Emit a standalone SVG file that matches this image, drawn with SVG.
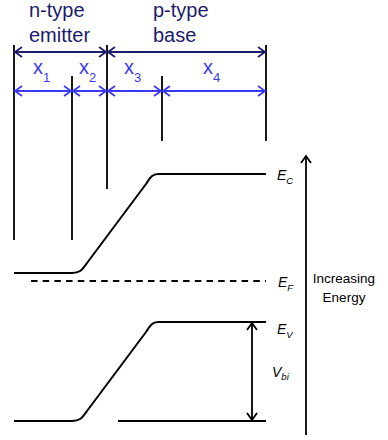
<svg xmlns="http://www.w3.org/2000/svg" width="388" height="440" viewBox="0 0 388 440">
<defs>
<marker id="ahn" viewBox="-8 -6 10 12" markerWidth="10" markerHeight="12" refX="0" refY="0" orient="auto-start-reverse" markerUnits="userSpaceOnUse">
<path d="M-7,-5 L0,0 L-7,5" fill="none" stroke="#1c1c6e" stroke-width="1.8"/>
</marker>
<marker id="ahb" viewBox="-8 -6 10 12" markerWidth="10" markerHeight="12" refX="0" refY="0" orient="auto-start-reverse" markerUnits="userSpaceOnUse">
<path d="M-7,-5 L0,0 L-7,5" fill="none" stroke="#3a3af5" stroke-width="1.8"/>
</marker>
<marker id="ahk" viewBox="-8 -6 10 12" markerWidth="10" markerHeight="12" refX="0" refY="0" orient="auto-start-reverse" markerUnits="userSpaceOnUse">
<path d="M-7,-5 L0,0 L-7,5" fill="none" stroke="#000" stroke-width="1.8"/>
</marker>
</defs>
<style>
.v{stroke:#000;stroke-width:1.8;fill:none}
.band{stroke:#000;stroke-width:2;fill:none}
.navy{stroke:#1c1c6e;stroke-width:2;fill:none}
.blue{stroke:#3a3af5;stroke-width:2;fill:none}
.title{font-family:"Liberation Sans",Arial,sans-serif;font-size:20px;fill:#1c1c6e}
.xl{font-family:"Liberation Sans",Arial,sans-serif;font-size:20px;fill:#3a3af5}
.sub{font-size:13px}
.el{font-family:"Liberation Sans",Arial,sans-serif;font-size:14px;font-style:italic;fill:#000}
.esub{font-size:9.5px}
.lbl{font-family:"Liberation Sans",Arial,sans-serif;font-size:13.5px;fill:#000}
</style>
<g id="boundaries">
<line class="v" x1="14" y1="45" x2="14" y2="240"/>
<line class="v" x1="72" y1="76" x2="72" y2="240"/>
<line class="v" x1="107" y1="45" x2="107" y2="189"/>
<line class="v" x1="162" y1="76" x2="162" y2="141"/>
<line class="v" x1="266" y1="45" x2="266" y2="141"/>
</g>
<g id="region-labels">
<text class="title" x="29" y="17">n-type</text>
<text class="title" x="29" y="42">emitter</text>
<text class="title" x="153" y="17">p-type</text>
<text class="title" x="153" y="42">base</text>
</g>
<g id="connectors">
<line class="navy" x1="15" y1="52" x2="106" y2="52" marker-start="url(#ahn)" marker-end="url(#ahn)"/>
<line class="navy" x1="108" y1="52" x2="265" y2="52" marker-start="url(#ahn)" marker-end="url(#ahn)"/>
<line class="blue" x1="15" y1="91" x2="71" y2="91" marker-start="url(#ahb)" marker-end="url(#ahb)"/>
<line class="blue" x1="73" y1="91" x2="106" y2="91" marker-start="url(#ahb)" marker-end="url(#ahb)"/>
<line class="blue" x1="108" y1="91" x2="161" y2="91" marker-start="url(#ahb)" marker-end="url(#ahb)"/>
<line class="blue" x1="163" y1="91" x2="265" y2="91" marker-start="url(#ahb)" marker-end="url(#ahb)"/>
<line class="v" x1="252" y1="323" x2="252" y2="420" marker-start="url(#ahk)" marker-end="url(#ahk)"/>
<line class="v" x1="306" y1="435" x2="306" y2="156" marker-end="url(#ahk)"/>
</g>
<g id="width-labels">
<text class="xl" x="33" y="74">x<tspan class="sub" dy="8">1</tspan></text>
<text class="xl" x="79" y="74">x<tspan class="sub" dy="8">2</tspan></text>
<text class="xl" x="124" y="74">x<tspan class="sub" dy="8">3</tspan></text>
<text class="xl" x="203" y="74">x<tspan class="sub" dy="8">4</tspan></text>
</g>
<g id="conduction-band">
<path class="band" d="M14,273 L72,273 C80,273 82,270 87,263 L146,184 C150,178 152,174 158,174 L266,174"/>
</g>
<g id="fermi-level">
<line x1="31" y1="281" x2="266" y2="281" stroke="#000" stroke-width="2" stroke-dasharray="6.5 5.2"/>
</g>
<g id="valence-band">
<path class="band" d="M14,421 L72,421 C80,421 82,418 87,411 L146,332 C150,326 152,322 158,322 L266,322"/>
<line class="band" x1="118" y1="421" x2="266" y2="421"/>
</g>
<g id="energy-labels">
<text class="el" x="277" y="180">E<tspan class="esub" dy="4">C</tspan></text>
<text class="el" x="278" y="287">E<tspan class="esub" dy="4">F</tspan></text>
<text class="el" x="277" y="334">E<tspan class="esub" dy="4">V</tspan></text>
<text class="el" x="272" y="377">V<tspan class="esub" dy="3">bi</tspan></text>
</g>
<g id="axis-label">
<text class="lbl" x="344" y="283" text-anchor="middle">Increasing</text>
<text class="lbl" x="344" y="302" text-anchor="middle">Energy</text>
</g>
</svg>
